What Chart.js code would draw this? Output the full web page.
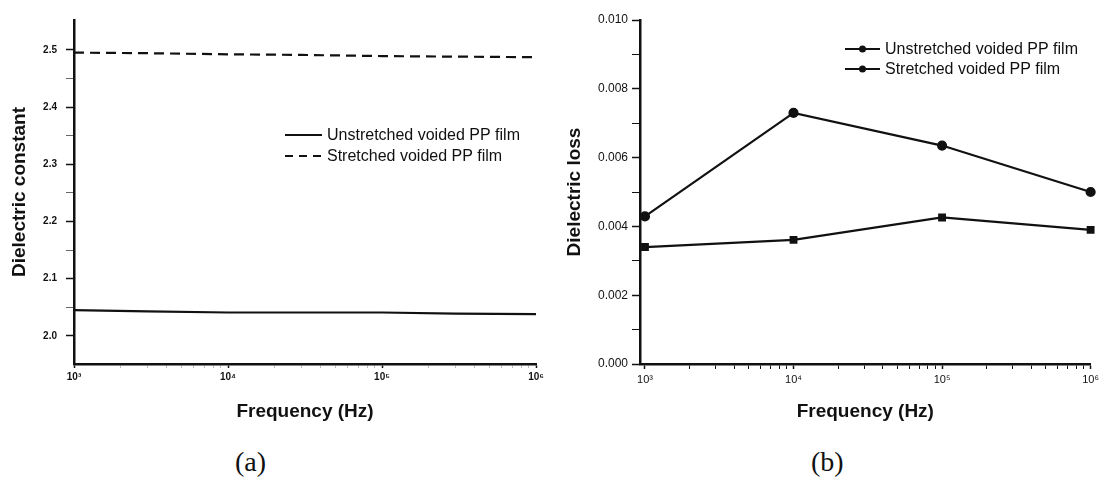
<!DOCTYPE html>
<html>
<head>
<meta charset="utf-8">
<script src="https://cdn.jsdelivr.net/npm/chart.js@4"></script>
<style>
    body { margin: 0; background: #fff; width: 1103px; height: 484px; position: relative; overflow: hidden; }
    canvas { position: absolute; top: 0; }
    #chartA { left: 0; }
    #chartB { left: 550px; }
    .caption { position: absolute; top: 446px; font: 28px "Liberation Serif", "DejaVu Serif", serif; color: #111; }
</style>
</head>
<body>
<canvas id="chartA" width="550" height="440"></canvas>
<canvas id="chartB" width="553" height="440"></canvas>
<div class="caption" style="left:235px;">(a)</div>
<div class="caption" style="left:811px;">(b)</div>

<script>
// ==============================
// DATA
// ==============================

const seriesNames = ['Unstretched voided PP film', 'Stretched voided PP film'];

// (a) dielectric constant
const freqA = [1e3, 3e3, 1e4, 3e4, 1e5, 3e5, 1e6];
const unstretchedConst = [2.045, 2.043, 2.041, 2.041, 2.041, 2.039, 2.038];
const stretchedConst = [2.495, 2.494, 2.492, 2.491, 2.489, 2.488, 2.487];
const constTicks = [2.0, 2.05, 2.1, 2.15, 2.2, 2.25, 2.3, 2.35, 2.4, 2.45, 2.5];

// (b) dielectric loss
const freqB = [1e3, 1e4, 1e5, 1e6];
const unstretchedLoss = [0.0034, 0.00361, 0.00426, 0.0039];
const stretchedLoss = [0.00429, 0.0073, 0.00635, 0.005];
const lossTicks = [0, 0.001, 0.002, 0.003, 0.004, 0.005, 0.006, 0.007, 0.008, 0.009, 0.010];

const freqTicks = [];
for (let p = 3; p < 6; p++) {
    for (let m = 1; m < 10; m++) freqTicks.push(m * Math.pow(10, p));
}
freqTicks.push(1e6);

const supers = { 3: '\u00B3', 4: '\u2074', 5: '\u2075', 6: '\u2076' };
const INK = '#111';

function isDecade(v) {
    const p = Math.log10(v);
    return Math.abs(p - Math.round(p)) < 1e-9;
}

function toPoints(xs, ys) {
    return xs.map((x, i) => ({ x: x, y: ys[i] }));
}

// ==============================
// LEGEND PLUGIN (drawn on canvas)
// ==============================

const legendPlugin = {
    id: 'sideLegend',
    afterDraw(chart, args, opts) {
        const ctx = chart.ctx;
        ctx.save();
        chart.data.datasets.forEach((ds, i) => {
            const y = opts.y + i * opts.gap;
            ctx.strokeStyle = INK;
            ctx.lineWidth = 2;
            ctx.setLineDash(ds.borderDash ? [8, 6] : []);
            ctx.beginPath();
            ctx.moveTo(opts.x, y);
            ctx.lineTo(opts.x + opts.len, y);
            ctx.stroke();
            ctx.setLineDash([]);
            if (opts.markers) {
                ctx.fillStyle = INK;
                ctx.beginPath();
                ctx.arc(opts.x + opts.len / 2, y, 3.5, 0, Math.PI * 2);
                ctx.fill();
            }
            ctx.fillStyle = INK;
            ctx.font = '16px "Liberation Sans", Arial, sans-serif';
            ctx.textBaseline = 'middle';
            ctx.fillText(ds.label, opts.x + opts.len + 5, y + 1);
        });
        ctx.restore();
    }
};

// ==============================
// SCALES
// ==============================

function freqScale(opts) {
    return {
        type: 'logarithmic',
        min: opts.min,
        max: 1e6,
        border: { display: true, color: INK, width: 2.5 },
        grid: {
            drawOnChartArea: false,
            drawTicks: true,
            tickLength: opts.tickLength,
            tickColor: c => (isDecade(c.tick.value) ? INK : opts.minorColor),
            tickWidth: c => (isDecade(c.tick.value) ? 1.5 : 1)
        },
        afterBuildTicks: scale => { scale.ticks = freqTicks.map(v => ({ value: v })); },
        afterFit: scale => { scale.height = 76; },
        ticks: {
            autoSkip: false,
            maxRotation: 0,
            padding: opts.padding,
            color: INK,
            font: { family: 'Liberation Sans', size: opts.fontSize, weight: opts.weight },
            callback: v => (isDecade(v) ? '10' + supers[Math.round(Math.log10(v))] : '')
        },
        title: {
            display: true,
            text: 'Frequency (Hz)',
            color: INK,
            font: { family: 'Liberation Sans', size: 19, weight: 'bold' },
            padding: { top: 0, bottom: 16.6 }
        }
    };
}

function valueScale(opts) {
    return {
        type: 'linear',
        min: opts.min,
        max: opts.max,
        border: { display: true, color: INK, width: 2.5 },
        grid: {
            drawOnChartArea: false,
            drawTicks: true,
            tickLength: opts.tickLength,
            tickColor: c => (opts.isMajor(c.tick.value) ? INK : opts.minorColor),
            tickWidth: c => (opts.isMajor(c.tick.value) ? 1.5 : 1)
        },
        afterBuildTicks: scale => { scale.ticks = opts.ticks.map(v => ({ value: v })); },
        afterFit: scale => { scale.width = opts.width; },
        ticks: {
            autoSkip: false,
            padding: opts.padding,
            color: INK,
            font: { family: 'Liberation Sans', size: opts.fontSize, weight: opts.weight },
            callback: v => (opts.isMajor(v) ? v.toFixed(opts.digits) : '')
        },
        title: {
            display: true,
            text: opts.title,
            color: INK,
            font: { family: 'Liberation Sans', size: 19, weight: 'bold' },
            padding: { top: opts.titlePad, bottom: 0 }
        }
    };
}

// ==============================
// CHART (a)
// ==============================

new Chart(document.getElementById('chartA'), {
    type: 'line',
    data: {
        datasets: [{
            label: seriesNames[0],
            data: toPoints(freqA, unstretchedConst),
            borderColor: INK,
            borderWidth: 2.2,
            pointRadius: 0,
            tension: 0
        }, {
            label: seriesNames[1],
            data: toPoints(freqA, stretchedConst),
            borderColor: INK,
            borderWidth: 2.2,
            borderDash: [10, 6],
            pointRadius: 0,
            tension: 0
        }]
    },
    plugins: [legendPlugin],
    options: {
        responsive: false,
        animation: false,
        layout: { padding: { left: 0, top: 20, right: 14, bottom: 0 } },
        plugins: {
            legend: { display: false },
            tooltip: { enabled: false },
            sideLegend: { x: 285, y: 135, gap: 21, len: 37, markers: false }
        },
        scales: {
            x: freqScale({ min: 1e3, tickLength: 4, padding: 3, fontSize: 10, weight: 'bold', minorColor: '#bbb' }),
            y: valueScale({
                min: 1.951, max: 2.552, ticks: constTicks, width: 74, tickLength: 8, padding: 9,
                fontSize: 10, weight: 'bold', title: 'Dielectric constant', titlePad: 8.6,
                digits: 1, minorColor: '#666',
                isMajor: v => Math.abs(v * 10 - Math.round(v * 10)) < 1e-6
            })
        }
    }
});

// ==============================
// CHART (b)
// ==============================

new Chart(document.getElementById('chartB'), {
    type: 'line',
    data: {
        datasets: [{
            label: seriesNames[0],
            data: toPoints(freqB, unstretchedLoss),
            borderColor: INK,
            backgroundColor: INK,
            borderWidth: 2.2,
            pointStyle: 'rect',
            pointRadius: 4,
            tension: 0
        }, {
            label: seriesNames[1],
            data: toPoints(freqB, stretchedLoss),
            borderColor: INK,
            backgroundColor: INK,
            borderWidth: 2.2,
            pointStyle: 'circle',
            pointRadius: 4,
            tension: 0
        }]
    },
    plugins: [legendPlugin],
    options: {
        responsive: false,
        animation: false,
        clip: false,
        layout: { padding: { left: 0, top: 20, right: 10, bottom: 0 } },
        plugins: {
            legend: { display: false },
            tooltip: { enabled: false },
            sideLegend: { x: 295, y: 49, gap: 20, len: 35, markers: true }
        },
        scales: {
            x: freqScale({ min: 926, tickLength: 5, padding: 4, fontSize: 11, weight: 'normal', minorColor: INK }),
            y: valueScale({
                min: 0, max: 0.010, ticks: lossTicks, width: 90, tickLength: 8, padding: 4,
                fontSize: 12, weight: 'normal', title: 'Dielectric loss', titlePad: 13.6,
                digits: 3, minorColor: INK,
                isMajor: v => Math.round(v * 1000) % 2 === 0
            })
        }
    }
});
</script>
</body>
</html>
